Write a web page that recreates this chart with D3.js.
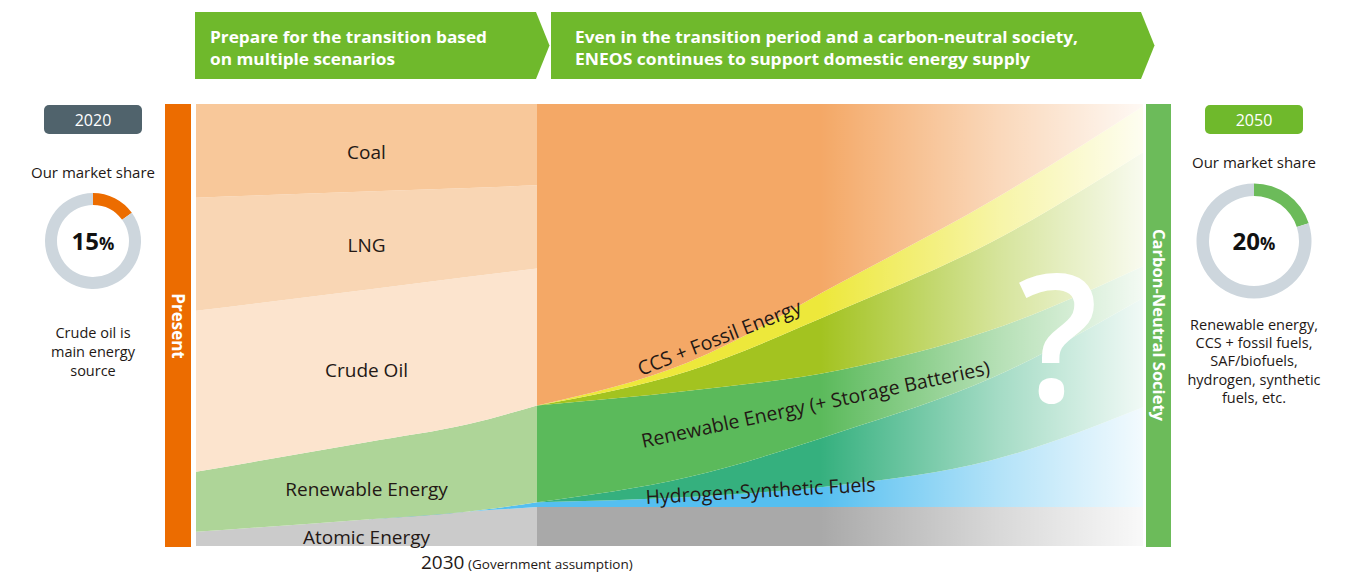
<!DOCTYPE html>
<html>
<head>
<meta charset="utf-8">
<script src="https://cdn.jsdelivr.net/npm/d3@7"></script>
<style>
body { margin: 0; background: #fff; }
text { font-family: "Open Sans", sans-serif; }
</style>
</head>
<body>
<svg id="chart" width="1364" height="575"></svg>
<script>
// ---------- data (shares of primary energy, %) ----------
var presentYears  = [2020, 2025, 2028, 2030];
var atomicNow     = [3.2, 6.0, 7.8, 8.8];
var hydrogenNow   = [0, 0, 0, 1.1];
var renewableNow  = [13.6, 17.5, 19.8, 21.9];
var crudeNow      = [36.4, 34.5, 33.3, 31.0];
var lngNow        = [25.6, 22.2, 20.1, 18.8];
var coalNow       = [21.2, 19.8, 19.0, 18.4];

var futureYears     = [2030, 2035, 2040, 2045, 2050];
var atomicFuture    = [8.8, 8.8, 8.8, 8.8, 8.8];
var hydrogenFuture  = [1.1, 2.3, 5.0, 10.6, 22.6];
var tealFuture      = [0, 4.5, 12.0, 18.6, 24.7];
var renewableFuture = [21.9, 19.5, 14.0, 10.9, 7.2];
var oliveFuture     = [0, 4.5, 13.6, 19.9, 25.8];
var ccsFuture       = [0, 2.0, 6.1, 9.3, 10.4];
var fossilFuture    = [68.2, 58.4, 40.5, 21.9, 0.5];

var presentLabels = ["Atomic Energy", "Renewable Energy", "Crude Oil", "LNG", "Coal"];
var futureLabels  = ["CCS + Fossil Energy", "Renewable Energy (+ Storage Batteries)", "Hydrogen\u00b7Synthetic Fuels"];
var bannerLines   = [["Prepare for the transition based", "on multiple scenarios"],
                     ["Even in the transition period and a carbon-neutral society,", "ENEOS continues to support domestic energy supply"]];
var shareYears    = ["2020", "2050"];
var marketShare   = [15, 20];
var shareNotes    = [["Crude oil is", "main energy", "source"],
                     ["Renewable energy,", "CCS + fossil fuels,", "SAF/biofuels,", "hydrogen, synthetic", "fuels, etc."]];

var svg = d3.select("svg#chart");

// scales: 2020-2030 occupies the left part, 2030-2050 the right part
var x = d3.scaleLinear().domain([2020, 2030, 2050]).range([196, 537, 1143]);
var y = d3.scaleLinear().domain([0, 100]).range([546, 104]);

var defs = svg.append("defs");
var fade = defs.append("linearGradient")
  .attr("id", "fade")
  .attr("gradientUnits", "userSpaceOnUse")
  .attr("x1", 820).attr("x2", 1143).attr("y1", 0).attr("y2", 0);
fade.append("stop").attr("offset", 0).attr("stop-color", "#fff").attr("stop-opacity", 0);
fade.append("stop").attr("offset", 0.55).attr("stop-color", "#fff").attr("stop-opacity", 0.55);
fade.append("stop").attr("offset", 1).attr("stop-color", "#fff").attr("stop-opacity", 0.93);

//////////////////// banners ////////////////////
var bannerBox = [[195, 536], [551, 1141]];
bannerBox.forEach(function(b, i) {
  var pts = [[b[0], 12], [b[1], 12], [b[1] + 13.5, 45.5], [b[1], 79], [b[0], 79]];
  svg.append("polygon")
    .attr("points", pts.map(function(p) { return p.join(","); }).join(" "))
    .attr("fill", "#6fb92c");
});
var bannerTextX = [210, 575];
var bannerWidths = [[277, 185], [503, 455]];
bannerLines.forEach(function(lines, i) {
  lines.forEach(function(line, j) {
    svg.append("text")
      .attr("x", bannerTextX[i])
      .attr("y", 43 + j * 22)
      .attr("textLength", bannerWidths[i][j])
      .attr("lengthAdjust", "spacingAndGlyphs")
      .style("font-size", "16.5px")
      .style("font-weight", 700)
      .style("fill", "#fff")
      .text(line);
  });
});

//////////////////// stacked areas ////////////////////
function rows(years, cols, keys) {
  return years.map(function(yr, i) {
    var r = { year: yr };
    keys.forEach(function(k, j) { r[k] = cols[j][i]; });
    return r;
  });
}

var area = d3.area()
  .x(function(d) { return x(d.data.year); })
  .y0(function(d) { return y(d[0]); })
  .y1(function(d) { return y(d[1]); })
  .curve(d3.curveMonotoneX);

var presentKeys = ["atomic", "hydrogen", "renewable", "crude", "lng", "coal"];
var presentColors = ["#cbcbcb", "#55bff0", "#aed598", "#fce4ce", "#f9d6b4", "#f8c89a"];
var presentData = rows(presentYears, [atomicNow, hydrogenNow, renewableNow, crudeNow, lngNow, coalNow], presentKeys);
var presentStack = d3.stack().keys(presentKeys)(presentData);

var futureKeys = ["atomic", "hydrogen", "teal", "renewable", "olive", "ccs", "fossil"];
var futureColors = ["#a9a9a9", "#55bff0", "#35b07e", "#5bba5b", "#a3c320", "#ede83b", "#f4a866"];
var futureData = rows(futureYears, [atomicFuture, hydrogenFuture, tealFuture, renewableFuture, oliveFuture, ccsFuture, fossilFuture], futureKeys);
var futureStack = d3.stack().keys(futureKeys)(futureData);

var plot = svg.append("g").attr("id", "plot");

plot.selectAll("path.present")
  .data(presentStack)
  .enter().append("path")
    .attr("class", "present")
    .attr("d", area)
    .attr("fill", function(d, i) { return presentColors[i]; });

plot.selectAll("path.future")
  .data(futureStack)
  .enter().append("path")
    .attr("class", "future")
    .attr("d", area)
    .attr("fill", function(d, i) { return futureColors[i]; });

// fade of the uncertain future toward 2050
plot.append("rect")
  .attr("x", x(2030)).attr("y", y(100))
  .attr("width", x(2050) - x(2030))
  .attr("height", y(0) - y(100))
  .attr("fill", "url(#fade)");

// big question mark
plot.append("text")
  .attr("x", 1058).attr("y", 402)
  .attr("text-anchor", "middle")
  .style("font-size", "178px")
  .style("font-weight", 600)
  .style("fill", "#fff")
  .text("?");

// labels of the present mix (placed at the middle of each band in 2025)
var presentLabelKeys = ["atomic", "renewable", "crude", "lng", "coal"];
presentLabelKeys.forEach(function(k, i) {
  var layer = presentStack[presentKeys.indexOf(k)];
  var p = layer[1];
  var mid = (p[0] + p[1]) / 2;
  plot.append("text")
    .attr("x", x(2025))
    .attr("y", y(mid) + (k === "renewable" ? 15 : 11))
    .attr("text-anchor", "middle")
    .style("font-size", "19px")
    .style("fill", "#231815")
    .text(presentLabels[i]);
});

// labels along the future bands
var futureLabelPos = [[641, 376, -21.5], [643, 448, -12], [646, 504, -3.2]];
futureLabels.forEach(function(t, i) {
  var p = futureLabelPos[i];
  plot.append("text")
    .attr("transform", "translate(" + p[0] + "," + p[1] + ") rotate(" + p[2] + ")")
    .style("font-size", "19.5px")
    .style("fill", "#231815")
    .text(t);
});

//////////////////// side bars ////////////////////
svg.append("rect").attr("x", 165).attr("y", 104).attr("width", 26).attr("height", 443).attr("fill", "#ec6c00");
svg.append("text")
  .attr("transform", "translate(178,326) rotate(90)")
  .attr("text-anchor", "middle")
  .attr("dy", "0.35em")
  .style("font-size", "17px")
  .style("font-weight", 700)
  .style("fill", "#fff")
  .text("Present");

svg.append("rect").attr("x", 1146).attr("y", 104).attr("width", 25).attr("height", 443).attr("fill", "#6cbb5a");
svg.append("text")
  .attr("transform", "translate(1158.5,325) rotate(90)")
  .attr("text-anchor", "middle")
  .attr("dy", "0.35em")
  .style("font-size", "16.5px")
  .style("font-weight", 700)
  .style("fill", "#fff")
  .text("Carbon-Neutral Society");

// 2030 axis note
var note = svg.append("text").attr("x", 421).attr("y", 569).style("fill", "#231815");
note.append("tspan").style("font-size", "19px").text(x.domain()[1]);
note.append("tspan").style("font-size", "13.5px").text(" (Government assumption)");

//////////////////// market share donuts ////////////////////
var panelX = [93, 1254];
var titleY = [178, 168];
var radii = [[36, 48], [45, 57.5]];
var shareColors = ["#ec6c00", "#6cbb5a"];
var badgeColors = ["#50636c", "#6fb92c"];
var noteY = [338, 330];
var noteStep = [19, 18.2];
var pie = d3.pie().sort(null);

marketShare.forEach(function(s, i) {
  var g = svg.append("g");
  var cx = panelX[i];

  g.append("rect")
    .attr("x", cx - 49).attr("y", 105)
    .attr("width", 98).attr("height", 29)
    .attr("rx", 5)
    .attr("fill", badgeColors[i]);
  g.append("text")
    .attr("x", cx).attr("y", 126)
    .attr("text-anchor", "middle")
    .style("font-size", "16px")
    .style("fill", "#fff")
    .text(shareYears[i]);

  g.append("text")
    .attr("x", cx).attr("y", titleY[i])
    .attr("text-anchor", "middle")
    .style("font-size", "15px")
    .style("fill", "#231815")
    .text("Our market share");

  var arc = d3.arc().innerRadius(radii[i][0]).outerRadius(radii[i][1]);
  g.append("g")
    .attr("transform", "translate(" + cx + ",241)")
    .selectAll("path")
    .data(pie([s, 100 - s]))
    .enter().append("path")
      .attr("d", arc)
      .attr("fill", function(d, j) { return j === 0 ? shareColors[i] : "#cdd6dd"; });

  var pct = g.append("text")
    .attr("x", cx).attr("y", 250)
    .attr("text-anchor", "middle")
    .style("font-weight", 700)
    .style("fill", "#111");
  pct.append("tspan").style("font-size", "24px").text(s);
  pct.append("tspan").style("font-size", "17px").text("%");

  shareNotes[i].forEach(function(line, j) {
    g.append("text")
      .attr("x", cx).attr("y", noteY[i] + j * noteStep[i])
      .attr("text-anchor", "middle")
      .style("font-size", "14.5px")
      .style("fill", "#231815")
      .text(line);
  });
});
</script>
</body>
</html>
